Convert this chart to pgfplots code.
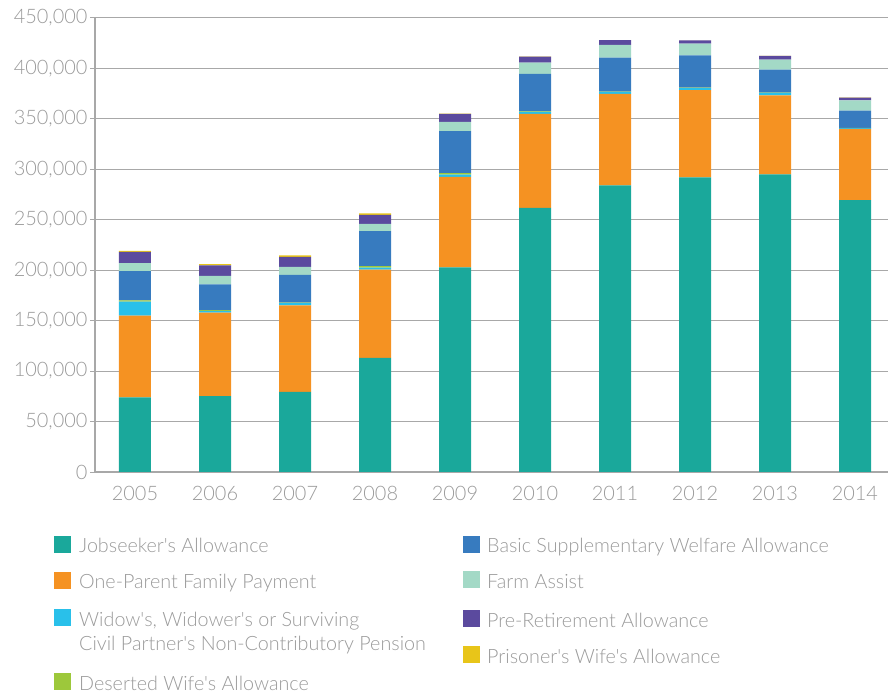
\documentclass[border=0pt]{standalone}
\usepackage{fontspec}
\setmainfont{Lato Light}[Ligatures=TeXOff]
\usepackage{pgfplots}
\usepackage{pgfplotstable}
\pgfplotsset{compat=1.18}

\definecolor{jsa}{HTML}{1AA89B}
\definecolor{opf}{HTML}{F59222}
\definecolor{wid}{HTML}{29C0EA}
\definecolor{dwa}{HTML}{9DC83B}
\definecolor{bswa}{HTML}{377BBF}
\definecolor{farm}{HTML}{A3D9C6}
\definecolor{pre}{HTML}{5B4A9E}
\definecolor{pwa}{HTML}{E8C519}
\definecolor{txt}{HTML}{9A9A9A}
\definecolor{grd}{HTML}{A8A8A8}

% recipients by scheme
\pgfplotstableread{
year jsa    opf   wid   dwa  bswa  farm  pre   pwa
2005 74000  80900 13900 1300 29000 7900  11200 1000
2006 75300  82600 1800  800  25500 8300  10600 1200
2007 79300  85900 2300  500  27400 7900  9900  1600
2008 113000 87500 2000  1600 34700 7200  8900  1400
2009 202900 89500 2300  1600 41600 9200  7900  300
2010 261700 93200 2000  600  37000 11300 5900  200
2011 284200 90500 2000  400  33700 12600 4600  100
2012 292100 86500 2000  300  32000 11600 3300  100
2013 295100 78300 2300  300  22800 9900  3700  100
2014 269600 70600 600   200  17200 10200 2700  100
}\benefits

\begin{document}
\begin{tikzpicture}
\begin{axis}[
  scale only axis,
  width=800bp, height=454bp,
  xmin=2004.5, xmax=2014.5,
  ymin=0, ymax=450000,
  ybar stacked, bar width=32bp,
  axis x line=bottom, axis y line=left,
  axis line style={grd, line width=1.1pt, -},
  xtick={2005,...,2014},
  x tick label style={/pgf/number format/1000 sep={}},
  minor xtick={2004.5,2005.5,...,2014.5},
  xtick style={draw=none},
  minor x tick style={grd, line width=1pt},
  minor tick length=5bp,
  ytick={0,50000,...,450000},
  scaled y ticks=false,
  y tick label style={/pgf/number format/fixed, /pgf/number format/1000 sep={,}},
  ytick style={grd, line width=1pt},
  major tick length=5bp,
  tick align=outside,
  ymajorgrids,
  grid style={grd, line width=1pt},
  /pgf/number format/assume math mode=true,
  ticklabel style={font=\fontsize{20}{22}\selectfont, text=txt},
  xticklabel style={yshift=-6bp},
  yticklabel style={xshift=1bp},
  every axis plot/.append style={draw=none},
]
\addplot[fill=jsa]  table[x=year, y=jsa]  {\benefits};
\addplot[fill=opf]  table[x=year, y=opf]  {\benefits};
\addplot[fill=wid]  table[x=year, y=wid]  {\benefits};
\addplot[fill=dwa]  table[x=year, y=dwa]  {\benefits};
\addplot[fill=bswa] table[x=year, y=bswa] {\benefits};
\addplot[fill=farm] table[x=year, y=farm] {\benefits};
\addplot[fill=pre]  table[x=year, y=pre]  {\benefits};
\addplot[fill=pwa]  table[x=year, y=pwa]  {\benefits};
\end{axis}

% legend, two columns below the plot
\begin{scope}[x=1bp, y=1bp, every node/.style={text=txt, inner sep=0pt,
    anchor=base west, font=\fontsize{19.8}{22}\selectfont}]
  \fill[jsa]  (-41,-81) rectangle ++(17,17);
  \node at (-16,-80) {Jobseeker's Allowance};
  \fill[opf]  (-41,-117) rectangle ++(17,17);
  \node at (-16,-116) {One-Parent Family Payment};
  \fill[wid]  (-41,-154) rectangle ++(17,17);
  \node at (-16,-154) {Widow's, Widower's or Surviving};
  \node at (-16,-178) {Civil Partner's Non-Contributory Pension};
  \fill[dwa]  (-41,-218) rectangle ++(17,17);
  \node at (-16,-218) {Deserted Wife's Allowance};
  \fill[bswa] (368,-81) rectangle ++(17,17);
  \node at (392,-80) {Basic Supplementary Welfare Allowance};
  \fill[farm] (368,-116) rectangle ++(17,17);
  \node at (392,-116) {Farm Assist};
  \fill[pre]  (368,-155) rectangle ++(17,17);
  \node at (392,-155) {Pre-Retirement Allowance};
  \fill[pwa]  (368,-191) rectangle ++(17,17);
  \node at (392,-191) {Prisoner's Wife's Allowance};
\end{scope}

\pgfresetboundingbox
\useasboundingbox (-95bp,-224bp) rectangle (793bp,472bp);
\end{tikzpicture}
\end{document}
